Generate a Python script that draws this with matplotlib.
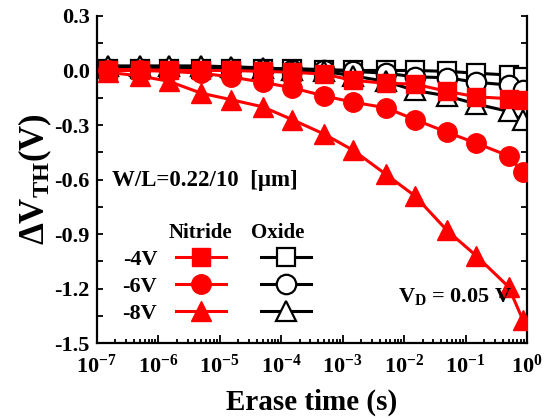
import matplotlib
matplotlib.use("Agg")
import matplotlib.pyplot as plt
from matplotlib.ticker import LogLocator, MultipleLocator, FixedLocator, NullFormatter

plt.rcParams['font.family'] = ['Liberation Serif', 'DejaVu Serif']
plt.rcParams['font.weight'] = 'bold'
plt.rcParams['mathtext.fontset'] = 'custom'
plt.rcParams['mathtext.rm'] = 'Liberation Serif:bold'
plt.rcParams['mathtext.it'] = 'Liberation Serif:bold'
plt.rcParams['mathtext.bf'] = 'Liberation Serif:bold'
plt.rcParams['mathtext.default'] = 'regular'

# ---- data ----
erase_time = [1.5e-7, 5e-7, 1.5e-6, 5e-6, 1.5e-5, 5e-5, 1.5e-4, 5e-4,
              1.5e-3, 5e-3, 1.5e-2, 5e-2, 1.5e-1, 5e-1, 0.85]
nitride_4v = [0.005, 0.005, 0.0, 0.0, 0.0, -0.005, -0.01, -0.02,
              -0.055, -0.07, -0.075, -0.115, -0.145, -0.155, -0.165]
nitride_6v = [0.0, 0.0, -0.005, -0.015, -0.035, -0.065, -0.095, -0.14,
              -0.175, -0.205, -0.27, -0.34, -0.40, -0.47, -0.56]
nitride_8v = [-0.01, -0.03, -0.06, -0.125, -0.16, -0.20, -0.27, -0.35,
              -0.44, -0.57, -0.69, -0.88, -1.02, -1.19, -1.37]
oxide_4v = [0.01, 0.01, 0.01, 0.01, 0.01, 0.01, 0.01, 0.005,
            0.0, 0.0, 0.0, -0.005, -0.015, -0.025, -0.035]
oxide_6v = [0.01, 0.01, 0.01, 0.01, 0.01, 0.005, 0.0, 0.0,
            -0.005, -0.015, -0.035, -0.04, -0.065, -0.08, -0.11]
oxide_8v = [0.025, 0.025, 0.025, 0.025, 0.02, 0.015, 0.005, -0.005,
            -0.03, -0.06, -0.11, -0.14, -0.185, -0.225, -0.275]
row_labels = ['-4V', '-6V', '-8V']
y_ticks = [0.3, 0.0, -0.3, -0.6, -0.9, -1.2, -1.5]

fig = plt.figure(figsize=(5.53, 4.19), dpi=100)
ax = fig.add_axes([0.175, 0.181, 0.778, 0.781])

red = '#ff0000'
lw = 2.2
ms = {'s': 12.5, 'o': 14, '^': 15}

ox_style = dict(color='black', lw=lw, mfc='white', mec='black', mew=1.6)
h_o4, = ax.plot(erase_time, oxide_4v, marker='s', ms=ms['s'], zorder=2, **ox_style)
h_o6, = ax.plot(erase_time, oxide_6v, marker='o', ms=ms['o'], zorder=2, **ox_style)
h_o8, = ax.plot(erase_time, oxide_8v, marker='^', ms=ms['^'], zorder=2, **ox_style)

ni_style = dict(color=red, lw=lw, mfc=red, mec=red, mew=1)
h_n8, = ax.plot(erase_time, nitride_8v, marker='^', ms=ms['^'], zorder=3, **ni_style)
h_n6, = ax.plot(erase_time, nitride_6v, marker='o', ms=ms['o'], zorder=4, **ni_style)
h_n4, = ax.plot(erase_time, nitride_4v, marker='s', ms=ms['s'], zorder=5, **ni_style)

ax.set_xscale('log')
ax.set_xlim(1e-7, 1.0)
ax.set_ylim(-1.5, 0.3)
ax.yaxis.set_major_locator(FixedLocator(y_ticks))
ax.yaxis.set_minor_locator(MultipleLocator(0.15))
ax.set_yticklabels([f'{v:.1f}' for v in y_ticks])
ax.xaxis.set_major_locator(LogLocator(base=10, numticks=20))
ax.xaxis.set_minor_locator(LogLocator(base=10, subs=range(2, 10), numticks=100))
ax.xaxis.set_minor_formatter(NullFormatter())

ax.spines['top'].set_visible(False)
for s in ['left', 'right', 'bottom']:
    ax.spines[s].set_linewidth(1.6)
ax.tick_params(axis='both', which='both', direction='in', width=1.3)
ax.tick_params(axis='y', which='both', right=True, length=4)
ax.tick_params(axis='x', which='major', length=6)
ax.tick_params(axis='x', which='minor', length=3)
ax.tick_params(axis='y', which='major', labelsize=16, pad=5)
ax.tick_params(axis='x', which='major', labelsize=16, pad=8)

ax.set_xlabel('Erase time (s)', fontsize=21, fontweight='bold', labelpad=8)
ax.set_ylabel('ΔV$_{\\rm TH}$(V)', fontsize=25, fontweight='bold', labelpad=0)

ax.text(0.035, 0.497, 'W/L=0.22/10  [μm]', transform=ax.transAxes,
        fontsize=16.5, fontweight='bold', ha='left', va='center')
ax.text(0.70, 0.144, 'V$_{\\rm D}$ = 0.05 V', transform=ax.transAxes,
        fontsize=16, fontweight='bold', ha='left', va='center')

# legend: two columns, labels on the left of the nitride column
handles = [h_n4, h_n6, h_n8, h_o4, h_o6, h_o8]
labels = row_labels + ['', '', '']
leg = ax.legend(handles, labels, ncol=2, markerfirst=False, frameon=False,
                loc='center left', bbox_to_anchor=(0.06, 0.173),
                borderaxespad=0, borderpad=0,
                handlelength=2.25, handletextpad=0.86, columnspacing=0.71,
                labelspacing=0.3, prop={'size': 16, 'weight': 'bold'})
ax.text(0.24, 0.336, 'Nitride', transform=ax.transAxes, fontsize=15,
        fontweight='bold', ha='center', va='center')
ax.text(0.42, 0.336, 'Oxide', transform=ax.transAxes, fontsize=15,
        fontweight='bold', ha='center', va='center')

fig.savefig('out.png', dpi=100)
